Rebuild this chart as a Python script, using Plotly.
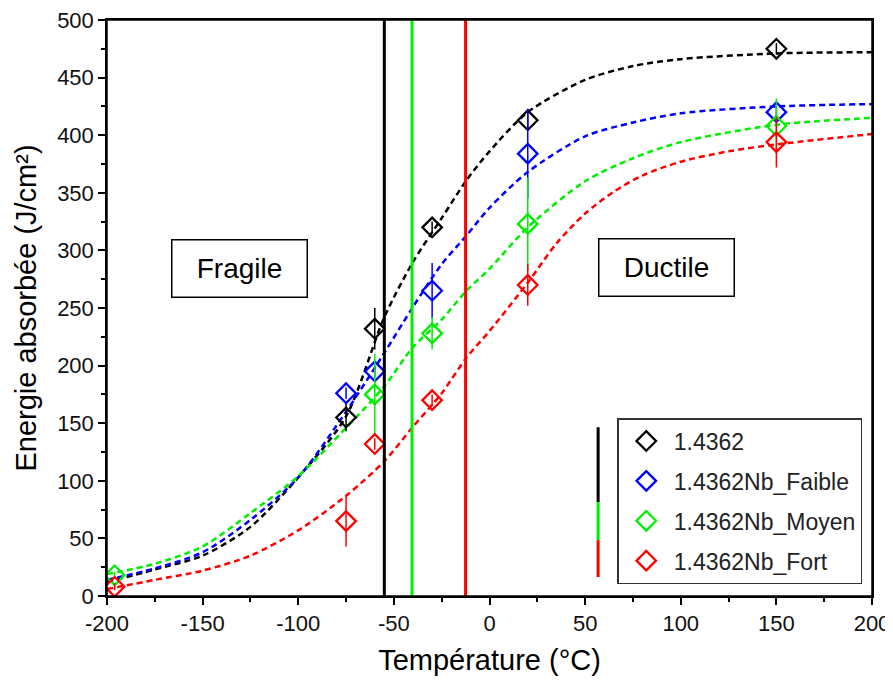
import plotly.graph_objects as go

# ---- data ----
series_names = ["1.4362", "1.4362Nb_Faible", "1.4362Nb_Moyen", "1.4362Nb_Fort"]
colors = ["#000000", "#0000ff", "#00ee00", "#ff0000"]

# measured points
x_black = [-75, -60, -30, 20, 150]
y_black = [155, 232, 320, 413, 475]
e_black = [12, 18, 5, 9, 5]

x_blue = [-75, -60, -30, 20, 150]
y_blue = [176, 195, 265, 384, 420]
e_blue = [5, 5, 24, 39, 8]

x_green = [-196, -60, -30, 20, 150]
y_green = [18, 175, 228, 323, 408]
e_green = [3, 35, 14, 40, 24]

x_red = [-196, -75, -60, -30, 20, 150]
y_red = [8, 65, 132, 170, 270, 394]
e_red = [3, 22, 5, 5, 18, 22]

# fitted curves
fx_black = [-200, -175, -150, -125, -100, -75, -55, -40, -25, -12, 0, 20, 50, 75, 100, 150, 200]
fy_black = [12, 23, 35, 60, 103, 156, 242, 290, 328, 361, 386, 420, 448, 460, 466, 471, 472]

fx_blue = [-200, -175, -150, -125, -100, -75, -55, -40, -25, -12, 0, 20, 50, 75, 100, 150, 200]
fy_blue = [14, 24, 38, 66, 103, 160, 211, 251, 288, 313, 337, 368, 399, 411, 419, 425, 427]

fx_green = [-200, -175, -150, -125, -100, -75, -55, -40, -25, -12, 0, 20, 50, 75, 100, 150, 200]
fy_green = [19, 28, 43, 72, 104, 146, 182, 216, 240, 265, 284, 320, 360, 380, 394, 409, 415]

fx_red = [-200, -175, -150, -125, -100, -75, -55, -40, -25, -12, 0, 20, 35, 50, 65, 80, 100, 125, 150, 200]
fy_red = [6, 14, 22, 35, 57, 87, 117, 147, 176, 207, 230, 272, 306, 332, 351, 365, 377, 386, 392, 401]

# transition temperatures (vertical lines)
t_trans = [-55, -40.5, -12.5]
t_colors = ["#000000", "#00ee00", "#ff0000"]

x_ticks = [-200, -150, -100, -50, 0, 50, 100, 150, 200]
x_tick_labels = ["-200", "-150", "-100", "-50", "0", "50", "100", "150", "200"]
y_ticks = [0, 50, 100, 150, 200, 250, 300, 350, 400, 450, 500]

FONT = "Arial, Liberation Sans, sans-serif"

fig = go.Figure()

points = [(x_black, y_black, e_black), (x_blue, y_blue, e_blue),
          (x_green, y_green, e_green), (x_red, y_red, e_red)]
fits = [(fx_black, fy_black), (fx_blue, fy_blue), (fx_green, fy_green), (fx_red, fy_red)]

for i, (name, col) in enumerate(zip(series_names, colors)):
    fx, fy = fits[i]
    fig.add_trace(go.Scatter(
        x=fx, y=fy, mode="lines", line=dict(color=col, width=2.5, dash="6px,4px", shape="spline", smoothing=0.8),
        showlegend=False, hoverinfo="skip"))

for tx, tc in zip(t_trans, t_colors):
    fig.add_vline(x=tx, line=dict(color=tc, width=3))

for i, (name, col) in enumerate(zip(series_names, colors)):
    px_, py_, pe_ = points[i]
    fig.add_trace(go.Scatter(
        x=px_, y=py_, mode="markers", name=name, legendgroup=name,
        marker=dict(symbol="diamond-open", size=15, color=col, line=dict(width=2.3, color=col)),
        error_y=dict(type="data", array=pe_, visible=True, color=col, thickness=1.5, width=0)))

# plot frame
fig.add_shape(type="rect", xref="paper", yref="paper", x0=0, x1=1, y0=0, y1=1,
              line=dict(color="#000", width=1.5), layer="above")

# legend side colour bars
fig.add_shape(type="line", xref="paper", yref="paper", x0=0.642, x1=0.642, y0=0.163, y1=0.293,
              line=dict(color="#000000", width=3))
fig.add_shape(type="line", xref="paper", yref="paper", x0=0.642, x1=0.642, y0=0.097, y1=0.163,
              line=dict(color="#00ee00", width=3))
fig.add_shape(type="line", xref="paper", yref="paper", x0=0.642, x1=0.642, y0=0.033, y1=0.097,
              line=dict(color="#ff0000", width=3))

for txt, ax_x, ax_y in [("Fragile", -130.5, 284), ("Ductile", 92.8, 285)]:
    fig.add_annotation(x=ax_x, y=ax_y, text=txt, showarrow=False,
                       font=dict(family=FONT, size=28, color="#000"),
                       bordercolor="#000", borderwidth=1.5, borderpad=2,
                       width=130, height=52, bgcolor="white")

axis_common = dict(showline=True, linecolor="#000", linewidth=1.5, mirror=True,
                   ticks="outside", ticklen=7, tickwidth=1.5, tickcolor="#000",
                   showgrid=False, zeroline=False, automargin=False,
                   ticklabeloverflow="allow",
                   tickfont=dict(family=FONT, size=22, color="#111"))

fig.update_xaxes(range=[-200, 200], tickvals=x_ticks, ticktext=x_tick_labels,
                 minor=dict(ticks="outside", ticklen=4, tickwidth=1.5, tickcolor="#000", dtick=25, tick0=-200),
                 title=dict(text="Température (°C)", font=dict(family=FONT, size=29, color="#000"), standoff=18),
                 **axis_common)
fig.update_yaxes(range=[0, 500], tickvals=y_ticks,
                 minor=dict(ticks="outside", ticklen=4, tickwidth=1.5, tickcolor="#000", dtick=25, tick0=0),
                 title=dict(text="Energie absorbée (J/cm²)", font=dict(family=FONT, size=29, color="#000"), standoff=12),
                 **axis_common)

# page has an 8px body margin, so the figure is sized to the remaining window
fig.update_layout(
    width=885, height=668,
    margin=dict(l=99, r=21, t=12, b=80, autoexpand=False),
    plot_bgcolor="white", paper_bgcolor="white",
    legend=dict(x=0.667, y=0.309, xanchor="left", yanchor="top",
                bordercolor="#333", borderwidth=1.5, bgcolor="white",
                font=dict(family=FONT, size=23, color="#222"),
                tracegroupgap=7, traceorder="grouped", itemwidth=45),
)

fig.write_html("out.html")
